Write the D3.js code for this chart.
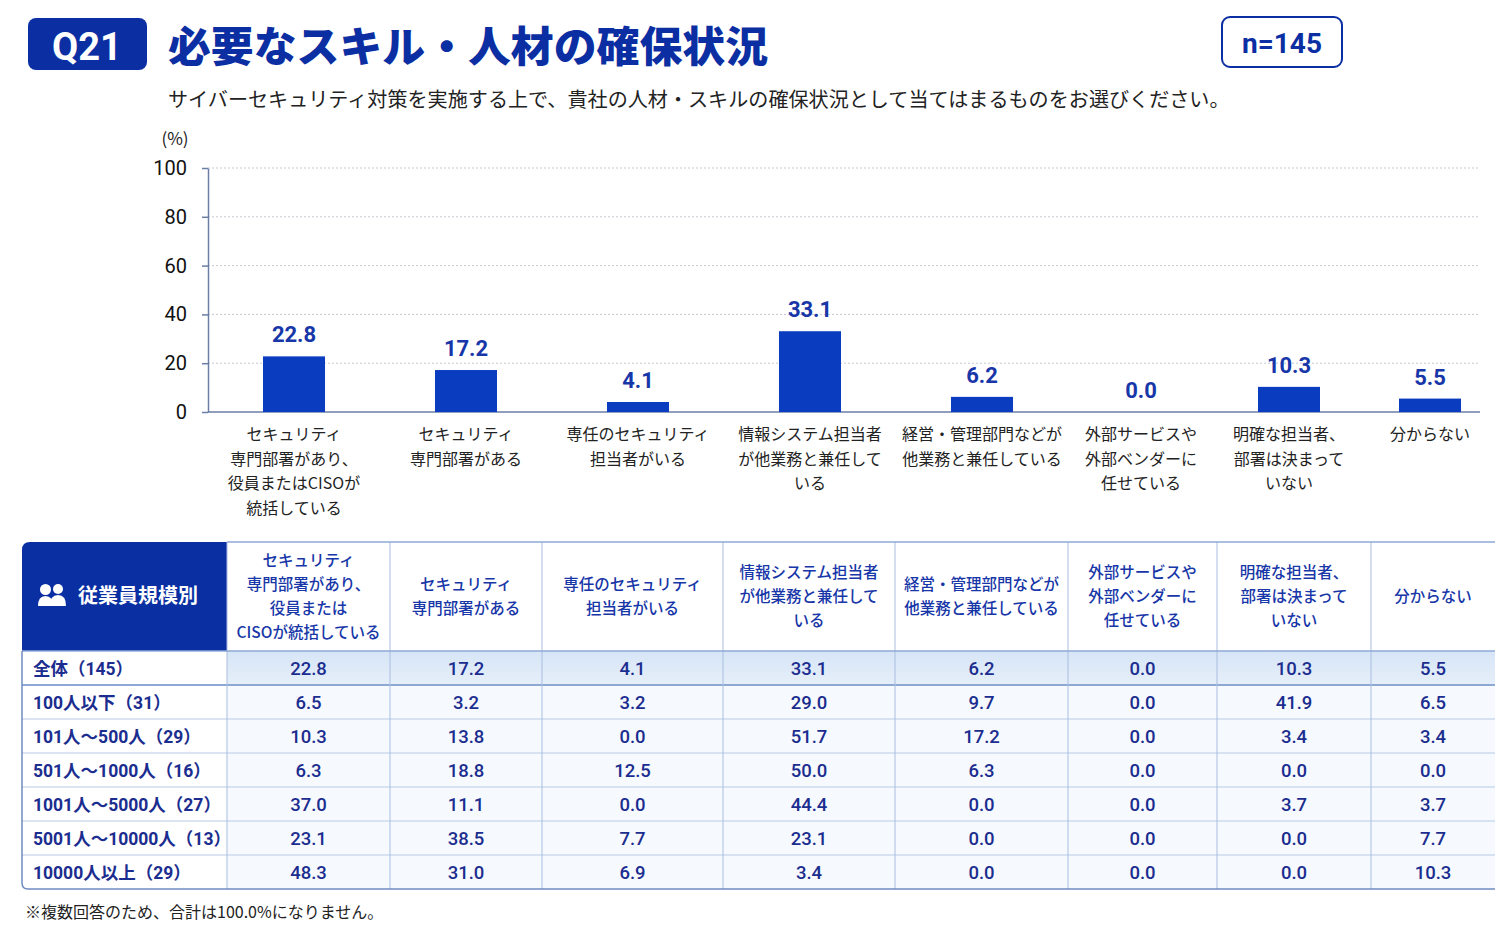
<!DOCTYPE html>
<html>
<head>
<meta charset="utf-8">
<script src="https://cdn.jsdelivr.net/npm/d3@7"></script>
<style>
  html, body { margin: 0; padding: 0; background: #fff; }
  svg { display: block; font-family: "Noto Sans CJK JP", sans-serif; }
  .num { font-family: Roboto, "Noto Sans CJK JP", sans-serif; }
</style>
</head>
<body>
<div id="chart"></div>
<script>
'use strict';

// categories (chart labels and table headers break differently)
var categories = ['sec_ciso', 'sec_dept', 'sec_staff', 'is_dual', 'mgmt_dual', 'outsourced', 'undecided', 'unknown'];
var chartLabels = [
  ['セキュリティ', '専門部署があり、', '役員またはCISOが', '統括している'],
  ['セキュリティ', '専門部署がある'],
  ['専任のセキュリティ', '担当者がいる'],
  ['情報システム担当者', 'が他業務と兼任して', 'いる'],
  ['経営・管理部門などが', '他業務と兼任している'],
  ['外部サービスや', '外部ベンダーに', '任せている'],
  ['明確な担当者、', '部署は決まって', 'いない'],
  ['分からない']
];
var tableHeaders = [
  ['セキュリティ', '専門部署があり、', '役員または', 'CISOが統括している'],
  ['セキュリティ', '専門部署がある'],
  ['専任のセキュリティ', '担当者がいる'],
  ['情報システム担当者', 'が他業務と兼任して', 'いる'],
  ['経営・管理部門などが', '他業務と兼任している'],
  ['外部サービスや', '外部ベンダーに', '任せている'],
  ['明確な担当者、', '部署は決まって', 'いない'],
  ['分からない']
];

// employee size groups
var groups = ['全体（145）', '100人以下（31）', '101人～500人（29）', '501人～1000人（16）',
  '1001人～5000人（27）', '5001人～10000人（13）', '10000人以上（29）'];

// series values (%)
var total   = [22.8, 17.2, 4.1, 33.1, 6.2, 0.0, 10.3, 5.5];
var upTo100 = [6.5, 3.2, 3.2, 29.0, 9.7, 0.0, 41.9, 6.5];
var s101    = [10.3, 13.8, 0.0, 51.7, 17.2, 0.0, 3.4, 3.4];
var s501    = [6.3, 18.8, 12.5, 50.0, 6.3, 0.0, 0.0, 0.0];
var s1001   = [37.0, 11.1, 0.0, 44.4, 0.0, 0.0, 3.7, 3.7];
var s5001   = [23.1, 38.5, 7.7, 23.1, 0.0, 0.0, 0.0, 7.7];
var s10000  = [48.3, 31.0, 6.9, 3.4, 0.0, 0.0, 0.0, 10.3];
var rows = [total, upTo100, s101, s501, s1001, s5001, s10000];

var yTicks = [0, 20, 40, 60, 80, 100];

// layout
var W = 1495, H = 937;
var navy = '#0b2fa3', barBlue = '#0a3cc0', textNavy = '#1b2d8f';
var plot = { left: 208, right: 1480, top: 168, bottom: 412 };
var barCenters = [294, 466, 638, 810, 982, 1141, 1289, 1430];
var barWidth = 62;
var colEdges = [22, 227, 390, 542, 723, 895, 1068, 1217, 1371, 1495];
var tableTop = 542, headH = 109, rowH = 34;

var svg = d3.select('#chart').append('svg')
  .attr('width', W).attr('height', H);

// ---- header ----
svg.append('rect')
  .attr('x', 28).attr('y', 18).attr('width', 119).attr('height', 52)
  .attr('rx', 8).attr('fill', navy);
svg.append('text').attr('class', 'num')
  .attr('x', 87).attr('y', 60).attr('text-anchor', 'middle')
  .attr('fill', '#fff').style('font-size', '38px').style('font-weight', 700)
  .text('Q21');

svg.append('text')
  .attr('x', 168).attr('y', 62)
  .attr('fill', navy).style('font-size', '42px').style('font-weight', 900)
  .attr('textLength', 600).attr('lengthAdjust', 'spacingAndGlyphs')
  .text('必要なスキル・人材の確保状況');

svg.append('rect')
  .attr('x', 1222).attr('y', 17).attr('width', 120).attr('height', 50)
  .attr('rx', 8).attr('fill', '#fff').attr('stroke', navy).attr('stroke-width', 2);
svg.append('text').attr('class', 'num')
  .attr('x', 1282).attr('y', 53).attr('text-anchor', 'middle')
  .attr('fill', navy).style('font-size', '28px').style('font-weight', 700)
  .text('n=145');

svg.append('text')
  .attr('x', 168).attr('y', 107)
  .attr('fill', '#222').style('font-size', '20.1px')
  .text('サイバーセキュリティ対策を実施する上で、貴社の人材・スキルの確保状況として当てはまるものをお選びください。');

// ---- bar chart ----
var x = d3.scaleOrdinal().domain(categories).range(barCenters);
var y = d3.scaleLinear().domain([0, 100]).range([plot.bottom, plot.top]);

svg.append('text')
  .attr('x', 175).attr('y', 145).attr('text-anchor', 'middle')
  .attr('fill', '#222').style('font-size', '17px')
  .text('(%)');

// dotted gridlines
svg.append('g').selectAll('line')
  .data(yTicks.filter(function (d) { return d > 0; }))
  .join('line')
  .attr('x1', plot.left).attr('x2', plot.right)
  .attr('y1', function (d) { return y(d); }).attr('y2', function (d) { return y(d); })
  .attr('stroke', '#c4c8d0').attr('stroke-width', 1).attr('stroke-dasharray', '2,2');

var yAxis = svg.append('g')
  .attr('transform', 'translate(' + plot.left + ',0)')
  .call(d3.axisLeft(y).tickValues(yTicks).tickSize(6).tickPadding(15).tickSizeOuter(0));
yAxis.select('.domain').attr('stroke', '#6a7ea6').attr('stroke-width', 1.5);
yAxis.selectAll('.tick line').attr('stroke', '#6a7ea6').attr('stroke-width', 1.5);
yAxis.selectAll('.tick text').attr('class', 'num')
  .attr('fill', '#111').style('font-size', '20px');

// baseline
svg.append('line')
  .attr('x1', plot.left).attr('x2', plot.right)
  .attr('y1', y(0)).attr('y2', y(0))
  .attr('stroke', '#6a7ea6').attr('stroke-width', 1.5);

svg.append('g').selectAll('rect')
  .data(total)
  .join('rect')
  .attr('x', function (d, i) { return x(categories[i]) - barWidth / 2; })
  .attr('y', function (d) { return y(d); })
  .attr('width', barWidth)
  .attr('height', function (d) { return y(0) - y(d); })
  .attr('fill', barBlue);

svg.append('g').selectAll('text')
  .data(total)
  .join('text')
  .attr('class', 'num')
  .attr('x', function (d, i) { return x(categories[i]); })
  .attr('y', function (d) { return y(d) - 14; })
  .attr('text-anchor', 'middle')
  .attr('fill', '#1736a8').style('font-size', '22px').style('font-weight', 700)
  .text(function (d) { return d.toFixed(1); });

// category labels under the axis
var catG = svg.append('g').selectAll('text')
  .data(chartLabels)
  .join('text')
  .attr('text-anchor', 'middle')
  .attr('fill', '#222').style('font-size', '16px')
  .attr('x', function (d, i) { return x(categories[i]); })
  .attr('y', 440);
catG.selectAll('tspan')
  .data(function (d) { return d; })
  .join('tspan')
  .attr('x', function () { return d3.select(this.parentNode).attr('x'); })
  .attr('dy', function (d, i) { return i === 0 ? 0 : 24.5; })
  .text(function (d) { return d; });

// ---- table ----
var tableBottom = tableTop + headH + rowH * rows.length;
var tab = svg.append('g');

// faint tint on value cells, stronger on the total row
tab.append('rect')
  .attr('x', colEdges[1]).attr('y', tableTop + headH)
  .attr('width', colEdges[colEdges.length - 1] - colEdges[1]).attr('height', rowH * rows.length)
  .attr('fill', '#f6f9fe');
var tint = svg.append('defs').append('linearGradient').attr('id', 'totTint')
  .attr('x1', 0).attr('x2', 0).attr('y1', 0).attr('y2', 1);
tint.append('stop').attr('offset', '0%').attr('stop-color', '#d6e5f7');
tint.append('stop').attr('offset', '100%').attr('stop-color', '#e6eff9');
tab.append('rect')
  .attr('x', colEdges[1]).attr('y', tableTop + headH)
  .attr('width', colEdges[colEdges.length - 1] - colEdges[1]).attr('height', rowH)
  .attr('fill', 'url(#totTint)');

// corner header cell (rounded top-left)
var cx0 = colEdges[0], cx1 = colEdges[1], r = 8;
tab.append('path')
  .attr('d', 'M' + cx0 + ',' + (tableTop + headH) + 'V' + (tableTop + r) +
    'Q' + cx0 + ',' + tableTop + ' ' + (cx0 + r) + ',' + tableTop +
    'H' + cx1 + 'V' + (tableTop + headH) + 'Z')
  .attr('fill', '#0a2fa2');

// people icon
var icon = tab.append('g').attr('fill', '#fff').attr('transform', 'translate(38,584)');
icon.append('circle').attr('cx', 20).attr('cy', 5).attr('r', 5);
icon.append('path').attr('d', 'M12,22 Q12,11 20,11 Q28,11 28,22 Z');
icon.append('circle').attr('cx', 7.5).attr('cy', 5.5).attr('r', 5.5);
icon.append('path').attr('d', 'M0,22 Q0,12 7.5,12 Q15,12 15,22 Z');

tab.append('text')
  .attr('x', 78).attr('y', 603)
  .attr('fill', '#fff').style('font-size', '20px').style('font-weight', 700)
  .text('従業員規模別');

// header labels
var headG = tab.selectAll('text.head')
  .data(tableHeaders)
  .join('text')
  .attr('class', 'head')
  .attr('text-anchor', 'middle')
  .attr('fill', '#1736a8').style('font-size', '15.5px').style('font-weight', 500)
  .attr('x', function (d, i) { return (colEdges[i + 1] + colEdges[i + 2]) / 2; })
  .attr('y', function (d) { return tableTop + headH / 2 + 5.5 - (d.length - 1) * 12; });
headG.selectAll('tspan')
  .data(function (d) { return d; })
  .join('tspan')
  .attr('x', function () { return d3.select(this.parentNode).attr('x'); })
  .attr('dy', function (d, i) { return i === 0 ? 0 : 24; })
  .text(function (d) { return d; });

// grid lines: horizontal row separators
tab.selectAll('line.hr')
  .data(d3.range(1, rows.length))
  .join('line')
  .attr('x1', colEdges[0]).attr('x2', colEdges[colEdges.length - 1])
  .attr('y1', function (d) { return tableTop + headH + d * rowH; })
  .attr('y2', function (d) { return tableTop + headH + d * rowH; })
  .attr('stroke', function (d) { return d === 1 ? '#8ea8d4' : '#b9cae6'; })
  .attr('stroke-width', function (d) { return d === 1 ? 2 : 1; });

// vertical column separators
tab.selectAll('line.vr')
  .data(colEdges.slice(1, -1))
  .join('line')
  .attr('x1', function (d) { return d; }).attr('x2', function (d) { return d; })
  .attr('y1', tableTop).attr('y2', tableBottom)
  .attr('stroke', '#a9bde0').attr('stroke-width', 1);

// outline
tab.append('line')
  .attr('x1', colEdges[1]).attr('x2', colEdges[colEdges.length - 1])
  .attr('y1', tableTop).attr('y2', tableTop)
  .attr('stroke', '#8ea8d4').attr('stroke-width', 1.5);
tab.append('line')
  .attr('x1', colEdges[0]).attr('x2', colEdges[colEdges.length - 1])
  .attr('y1', tableTop + headH).attr('y2', tableTop + headH)
  .attr('stroke', '#8ea8d4').attr('stroke-width', 1.5);
tab.append('path')
  .attr('d', 'M' + cx0 + ',' + (tableTop + headH) + 'V' + (tableBottom - 6) +
    'Q' + cx0 + ',' + tableBottom + ' ' + (cx0 + 6) + ',' + tableBottom +
    'H' + colEdges[colEdges.length - 1])
  .attr('fill', 'none').attr('stroke', '#6f8cc2').attr('stroke-width', 1.5);

// row labels
tab.selectAll('text.grp')
  .data(groups)
  .join('text')
  .attr('class', 'grp num')
  .attr('x', 33)
  .attr('y', function (d, i) { return tableTop + headH + i * rowH + rowH / 2 + 7; })
  .attr('fill', textNavy).style('font-size', '17.5px').style('font-weight', 700)
  .text(function (d) { return d; });

// value cells
var rowG = tab.selectAll('g.row')
  .data(rows)
  .join('g')
  .attr('class', 'row')
  .attr('transform', function (d, i) { return 'translate(0,' + (tableTop + headH + i * rowH + rowH / 2 + 7) + ')'; });
rowG.selectAll('text')
  .data(function (d) { return d; })
  .join('text')
  .attr('class', 'num')
  .attr('x', function (d, i) { return (colEdges[i + 1] + colEdges[i + 2]) / 2; })
  .attr('text-anchor', 'middle')
  .attr('fill', textNavy).style('font-size', '18.5px').style('font-weight', 500)
  .text(function (d) { return d.toFixed(1); });

// footnote
svg.append('text')
  .attr('x', 25).attr('y', 918)
  .attr('fill', '#222').style('font-size', '16px')
  .text('※複数回答のため、合計は100.0%になりません。');
</script>
</body>
</html>
